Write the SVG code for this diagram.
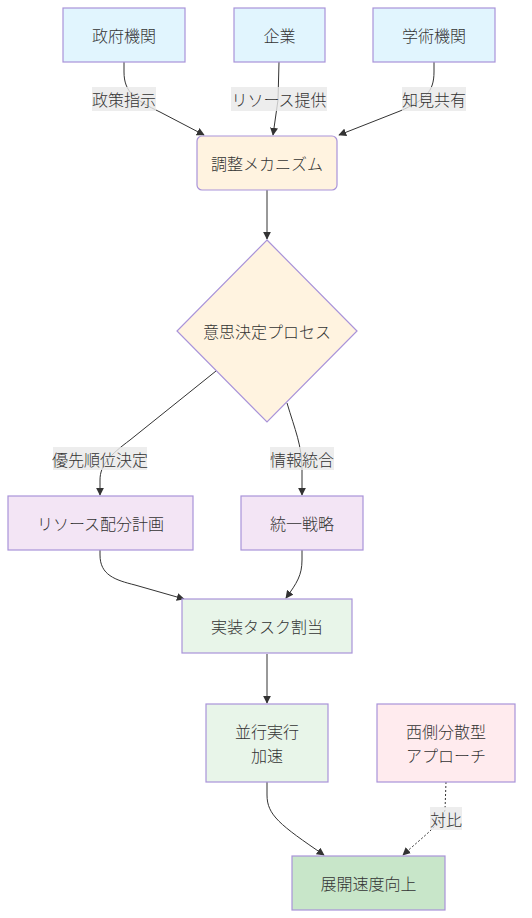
<svg xmlns="http://www.w3.org/2000/svg" width="532" height="918" viewBox="0 0 532 918">
<style>
text{font-family:"Noto Sans CJK JP","Noto Sans",sans-serif;font-size:16px;font-weight:300;fill:#333;text-anchor:middle;dominant-baseline:central}
.n{stroke:#a993d9;stroke-width:1.2}
.blue{fill:#e1f5fe}.orange{fill:#fff3e0}.purple{fill:#f3e5f5}.green{fill:#e8f5e9}.pink{fill:#ffebee}.dgreen{fill:#c8e6c9}
.e{fill:none;stroke:#333;stroke-width:1}
.d{stroke-dasharray:2,2}
.lb{fill:#e8e8e8;opacity:0.8}
</style>
<defs>
<marker id="arr" viewBox="0 0 10 10" refX="9" refY="5" markerWidth="8" markerHeight="8" markerUnits="userSpaceOnUse" orient="auto">
<path d="M0,0 L10,5 L0,10 z" fill="#333"/>
</marker>
</defs>
<rect width="532" height="918" fill="#fff"/>
<g id="edges">
<path class="e" d="M124,62 L124,72 C124,92 135,100 160,112 L204,135" marker-end="url(#arr)"/>
<path class="e" d="M279,62 L278,100 L273,135" marker-end="url(#arr)"/>
<path class="e" d="M434,62 L434,72 C434,92 425,100 400,111 L339,135" marker-end="url(#arr)"/>
<path class="e" d="M267,190 L267,239" marker-end="url(#arr)"/>
<path class="e" d="M216,371 L130,440 C110,455 100,465 100,480 L100,495" marker-end="url(#arr)"/>
<path class="e" d="M287,403 C295,430 302,445 302,470 L302,495" marker-end="url(#arr)"/>
<path class="e" d="M100,550 L100,555 C100,575 115,580 135,585 L184,599" marker-end="url(#arr)"/>
<path class="e" d="M302,550 L302,560 C302,575 297,583 286,598" marker-end="url(#arr)"/>
<path class="e" d="M267,654 L267,703" marker-end="url(#arr)"/>
<path class="e" d="M267,782 L267,795 C267,815 280,825 324,855" marker-end="url(#arr)"/>
<path class="e d" d="M446,782 L445,810 C440,825 425,835 403,855" marker-end="url(#arr)"/>
<g id="edge-labels">
<rect class="lb" x="92" y="87" width="64" height="24"/><text x="124" y="99">政策指示</text>
<rect class="lb" x="231" y="87" width="96" height="24"/><text x="279" y="99">リソース提供</text>
<rect class="lb" x="402" y="87" width="64" height="24"/><text x="434" y="99">知見共有</text>
<rect class="lb" x="53" y="447" width="94" height="23"/><text x="100" y="459">優先順位決定</text>
<rect class="lb" x="270" y="447" width="64" height="23"/><text x="302" y="459">情報統合</text>
<rect class="lb" x="430" y="807" width="32" height="23"/><text x="446" y="819">対比</text>
</g>
</g>
<g id="gov"><rect class="n blue" x="63" y="8" width="122" height="54"/><text x="124" y="35">政府機関</text></g>
<g id="corp"><rect class="n blue" x="234" y="8" width="91" height="54"/><text x="279.5" y="35">企業</text></g>
<g id="acad"><rect class="n blue" x="373" y="8" width="122" height="54"/><text x="434" y="35">学術機関</text></g>
<g id="coord"><rect class="n orange" x="197" y="136" width="140" height="54" rx="5"/><text x="267" y="163">調整メカニズム</text></g>
<g id="decision"><polygon class="n orange" points="267,240 357,331 267,422 177,331"/><text x="267" y="331">意思決定プロセス</text></g>
<g id="resource"><rect class="n purple" x="8" y="496" width="185" height="54"/><text x="100.5" y="523">リソース配分計画</text></g>
<g id="strategy"><rect class="n purple" x="241" y="496" width="122" height="54"/><text x="302" y="523">統一戦略</text></g>
<g id="impl"><rect class="n green" x="182" y="599" width="170" height="54"/><text x="267" y="626">実装タスク割当</text></g>
<g id="parallel"><rect class="n green" x="206" y="704" width="122" height="78"/><text x="267" y="731">並行実行</text><text x="267" y="755">加速</text></g>
<g id="west"><rect class="n pink" x="377" y="704" width="138" height="78"/><text x="446" y="731">西側分散型</text><text x="446" y="755">アプローチ</text></g>
<g id="speed"><rect class="n dgreen" x="292" y="856" width="153" height="54"/><text x="368.5" y="883">展開速度向上</text></g>
</svg>
